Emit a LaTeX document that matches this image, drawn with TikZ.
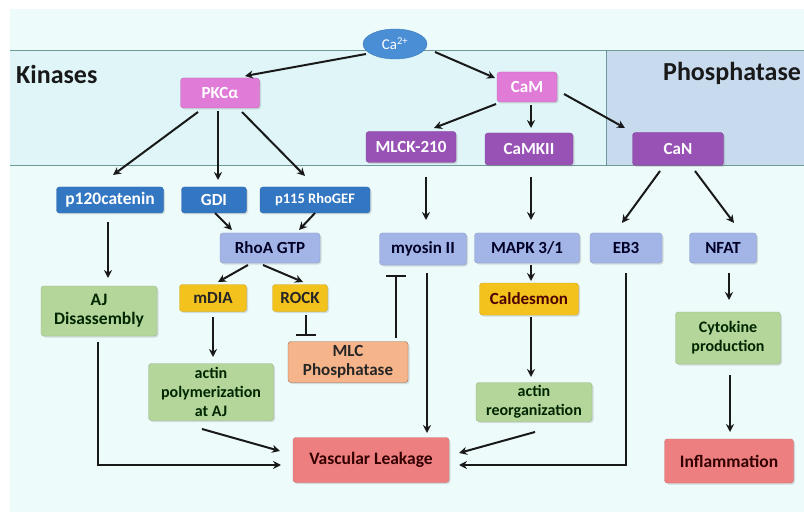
\documentclass[tikz,border=0pt]{standalone}
\usepackage{fontspec}
\setmainfont{Carlito}
\usetikzlibrary{arrows.meta,shadows,calc,shapes.geometric}
\definecolor{bgc}{HTML}{EDFBFB}
\definecolor{bandc}{HTML}{DFF5F7}
\definecolor{phosc}{HTML}{C8DBEE}
\definecolor{linec}{HTML}{6F9899}
\definecolor{pinkc}{HTML}{E07CD8}
\definecolor{purpc}{HTML}{9852B6}
\definecolor{bluec}{HTML}{3377C3}
\definecolor{lbluec}{HTML}{A3B5E6}
\definecolor{yelc}{HTML}{F4C21C}
\definecolor{greenc}{HTML}{B4D69A}
\definecolor{salc}{HTML}{F6B48A}
\definecolor{redc}{HTML}{EE7F80}
\definecolor{cac}{HTML}{4A8FD6}
\tikzset{
  bx/.style={rounded corners=3pt, align=center, inner sep=1pt,
    font=\fontsize{17}{19}\selectfont\bfseries,
    drop shadow={shadow xshift=1.5pt, shadow yshift=-1.5pt, opacity=0.25}},
  pinkbox/.style={bx, fill=pinkc, draw=pinkc!85!black, text=white},
  purpbox/.style={bx, fill=purpc, draw=purpc!85!black, text=white},
  bluebox/.style={bx, fill=bluec, draw=bluec!85!black, text=white},
  lbbox/.style={bx, fill=lbluec, draw=lbluec!85!black, text=black!85!blue},
  yelbox/.style={bx, fill=yelc, draw=yelc!85!black, text=black!85},
  grbox/.style={bx, fill=greenc, draw=greenc!85!black, text=black!85!green},
  salbox/.style={bx, fill=salc, draw=salc!60!black, text=black!85},
  redbox/.style={bx, fill=redc, draw=redc!85!black, text=black!80!red},
  arr/.style={-{Stealth[length=8pt,width=8pt]}, line width=2pt, black!90},
  inh/.style={-{Bar[width=20pt,line width=1.8pt]}, line width=1.8pt, black!90},
  lbl/.style={font=\fontsize{26}{28}\selectfont\bfseries, text=black!90, inner sep=0pt},
  fs/.style={font=\fontsize{#1}{19}\selectfont\bfseries}
}
\begin{document}
\begin{tikzpicture}[x=1pt,y=-1pt]
\useasboundingbox (0,0) rectangle (804,516);
\fill[white] (0,0) rectangle (804,516);
\fill[bgc] (10,9) rectangle (804,512);
\fill[bandc] (10,51) rectangle (804,166);
\fill[phosc] (606,51) rectangle (804,166);
\draw[linec, line width=1pt] (10,51) -- (804,51);
\draw[linec, line width=1pt] (10,166) -- (804,166);
\draw[linec, line width=0.8pt] (606,51) -- (606,166);
\node[lbl, anchor=west] (kin) at (16,74) {Kinases};
\node[lbl, anchor=west] (phos) at (663,73) {Phosphatase};

\node[ellipse, fill=cac, draw=cac!85!black, text=white, minimum width=64pt, minimum height=30pt, inner sep=0pt, font=\fontsize{15}{16}\selectfont] (ca) at (395,44) {Ca\textsuperscript{2+}};
\node[pinkbox, minimum width=79pt, minimum height=30pt] (pkc) at (220,93) {PKCα};
\node[pinkbox, minimum width=60pt, minimum height=30pt] (cam) at (527,87) {CaM};
\node[purpbox, minimum width=90pt, minimum height=31pt] (mlck) at (411,147) {MLCK-210};
\node[purpbox, minimum width=88pt, minimum height=32pt] (camk) at (529,149) {CaMKII};
\node[purpbox, minimum width=91pt, minimum height=33pt] (can) at (678,149) {CaN};
\node[bluebox, minimum width=107pt, minimum height=26pt, fs=17.5] (p120) at (110,200) {p120catenin};
\node[bluebox, minimum width=65pt, minimum height=26pt] (gdi) at (214,200) {GDI};
\node[bluebox, minimum width=110pt, minimum height=26pt, fs=14.5] (p115) at (315,200) {p115 RhoGEF};
\node[lbbox, minimum width=100pt, minimum height=30pt] (rhoa) at (270,248) {RhoA GTP};
\node[lbbox, minimum width=87pt, minimum height=32pt] (myo) at (423,249) {myosin II};
\node[lbbox, minimum width=105pt, minimum height=30pt] (mapk) at (527,248) {MAPK 3/1};
\node[lbbox, minimum width=72pt, minimum height=30pt] (eb3) at (626,248) {EB3};
\node[lbbox, minimum width=67pt, minimum height=30pt] (nfat) at (723,248) {NFAT};
\node[yelbox, minimum width=67pt, minimum height=27pt] (mdia) at (213,298) {mDIA};
\node[yelbox, minimum width=55pt, minimum height=27pt] (rock) at (300,298) {ROCK};
\node[yelbox, minimum width=99pt, minimum height=32pt, text=black!70!red] (cald) at (529,299) {Caldesmon};
\node[grbox, minimum width=116pt, minimum height=50pt, fs=17.5] (aj) at (99,311) {AJ\\Disassembly};
\node[grbox, minimum width=105pt, minimum height=52pt, fs=16] (cyto) at (728,338) {Cytokine\\production};
\node[salbox, minimum width=120pt, minimum height=41pt] (mlcp) at (348,362) {MLC\\Phosphatase};
\node[grbox, minimum width=125pt, minimum height=57pt, fs=16] (apoly) at (211,392) {actin\\polymerization\\at AJ};
\node[grbox, minimum width=116pt, minimum height=39pt, fs=16] (areorg) at (534,402) {actin\\reorganization};
\node[redbox, minimum width=156pt, minimum height=45pt, fs=17.5] (vl) at (371,460) {Vascular Leakage};
\node[redbox, minimum width=129pt, minimum height=44pt, fs=17.5] (infl) at (729,461) {Inflammation};

% arrows
\draw[arr] ([shift={(-29,10)}]ca.center) -- ([shift={(25,-17)}]pkc.center);
\draw[arr] ([shift={(40,8)}]ca.center) -- ([shift={(-32,-9)}]cam.center);
\draw[arr] ([shift={(-22,19)}]pkc.center) -- ([shift={(3,-25)}]p120.center);
\draw[arr] ([shift={(-2,18)}]pkc.center) -- ([shift={(4,-20)}]gdi.center);
\draw[arr] ([shift={(22,19)}]pkc.center) -- ([shift={(-10,-24)}]p115.center);
\draw[arr] ([shift={(-31,17)}]cam.center) -- ([shift={(23,-19)}]mlck.center);
\draw[arr] ([shift={(4,18)}]cam.center) -- ([shift={(2,-21)}]camk.center);
\draw[arr] ([shift={(37,7)}]cam.center) -- ([shift={(-53,-21)}]can.center);
\draw[arr] ([shift={(15,30)}]mlck.center) -- ([shift={(3,-29)}]myo.center);
\draw[arr] ([shift={(2,28)}]camk.center) -- ([shift={(4,-28)}]mapk.center);
\draw[arr] ([shift={(-18,22)}]can.center) -- ([shift={(-4,-25)}]eb3.center);
\draw[arr] ([shift={(17,22)}]can.center) -- ([shift={(11,-25)}]nfat.center);
\draw[arr] ([shift={(-2,22)}]p120.center) -- ([shift={(9,-33)}]aj.center);
\draw[arr] ([shift={(1,13)}]gdi.center) -- ([shift={(-38,-18)}]rhoa.center);
\draw[arr] ([shift={(0,13)}]p115.center) -- ([shift={(29,-18)}]rhoa.center);
\draw[arr] ([shift={(-22,17)}]rhoa.center) -- ([shift={(5,-16)}]mdia.center);
\draw[arr] ([shift={(-7,17)}]rhoa.center) -- ([shift={(3,-16)}]rock.center);
\draw[arr] ([shift={(0,19)}]mdia.center) -- ([shift={(2,-35)}]apoly.center);
\draw[inh] ([shift={(6,17)}]rock.center) -- ([shift={(-42,-26)}]mlcp.center);
\draw[inh] ([shift={(48,-24)}]mlcp.center) -- ([shift={(-27,26)}]myo.center);
\draw[arr] ([shift={(4,24)}]myo.center) -- ([shift={(56,-27)}]vl.center);
\draw[arr] ([shift={(4,17)}]mapk.center) -- ([shift={(2,-18)}]cald.center);
\draw[arr] ([shift={(2,18)}]cald.center) -- ([shift={(-3,-25)}]areorg.center);
\draw[arr] ([shift={(0,25)}]eb3.center) |- ([shift={(88,5)}]vl.center);
\draw[arr] ([shift={(1,30)}]areorg.center) -- ([shift={(88,-7)}]vl.center);
\draw[arr] ([shift={(-1,31)}]aj.center) |- ([shift={(-90,5)}]vl.center);
\draw[arr] ([shift={(-9,37)}]apoly.center) -- ([shift={(-91,-9)}]vl.center);
\draw[arr] ([shift={(6,25)}]nfat.center) -- ([shift={(1,-38)}]cyto.center);
\draw[arr] ([shift={(2,37)}]cyto.center) -- ([shift={(1,-29)}]infl.center);
\end{tikzpicture}
\end{document}
